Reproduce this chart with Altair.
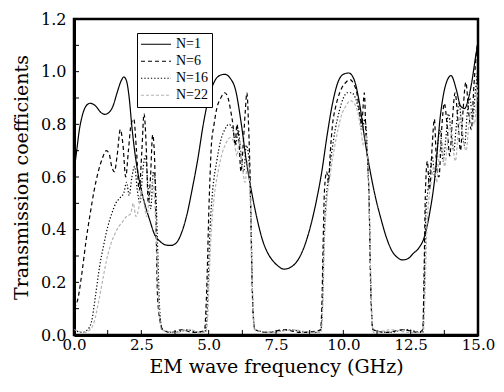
import altair as alt
import pandas as pd

# ---- data ----
n1_f = [0.0, 0.1, 0.2, 0.3, 0.45, 0.6, 0.8, 1.0, 1.15, 1.3, 1.45, 1.6, 1.75, 1.85, 1.95, 2.05, 2.15, 2.25, 2.35,
        2.5, 2.65, 2.8, 3.0, 3.2, 3.4, 3.6, 3.8, 4.0, 4.2, 4.4, 4.6, 4.8, 5.0, 5.2, 5.4, 5.6, 5.8, 6.0, 6.2, 6.4,
        6.6, 6.8, 7.0, 7.2, 7.4, 7.6, 7.8, 8.0, 8.2, 8.4, 8.6, 8.8, 9.0, 9.2, 9.4, 9.6, 9.8, 10.0, 10.2, 10.4,
        10.6, 10.8, 11.0, 11.2, 11.4, 11.6, 11.8, 12.0, 12.2, 12.4, 12.6, 12.8, 13.0, 13.2, 13.4, 13.6, 13.8,
        14.0, 14.2, 14.35, 14.5, 14.65, 14.8, 14.9, 15.0]
n1_t = [0.62, 0.70, 0.78, 0.83, 0.87, 0.88, 0.87, 0.845, 0.838, 0.845, 0.87, 0.92, 0.965, 0.98, 0.965, 0.90,
        0.79, 0.70, 0.63, 0.55, 0.49, 0.44, 0.38, 0.355, 0.342, 0.34, 0.35, 0.39, 0.46, 0.56, 0.67, 0.80, 0.90,
        0.96, 0.985, 0.99, 0.975, 0.93, 0.81, 0.66, 0.54, 0.44, 0.36, 0.31, 0.28, 0.26, 0.25, 0.255, 0.27, 0.30,
        0.35, 0.42, 0.51, 0.62, 0.76, 0.88, 0.96, 0.99, 0.995, 0.97, 0.88, 0.74, 0.62, 0.52, 0.44, 0.37, 0.32,
        0.295, 0.285, 0.29, 0.31, 0.33, 0.37, 0.46, 0.60, 0.83, 0.95, 0.985, 0.93, 0.87, 0.86, 0.90, 0.98, 1.05,
        1.11]

n6_f = [0.0, 0.15, 0.3, 0.45, 0.6, 0.75, 0.9, 1.05, 1.2, 1.3, 1.4, 1.5, 1.6, 1.72, 1.82, 1.92, 2.02, 2.12, 2.22,
        2.32, 2.42, 2.52, 2.6, 2.68, 2.76, 2.84, 2.92, 2.98, 3.05, 3.1, 3.2, 3.3, 3.6, 4.0, 4.4, 4.8,
        4.85, 4.9, 4.95, 5.0, 5.05, 5.1, 5.2, 5.3, 5.45, 5.6, 5.72, 5.82, 5.9, 5.98, 6.05, 6.12, 6.2, 6.28, 6.36,
        6.42, 6.48, 6.55, 6.6, 6.65, 6.72, 7.2, 7.8, 8.4, 9.0,
        9.15, 9.2, 9.25, 9.3, 9.38, 9.45, 9.52, 9.6, 9.7, 9.8, 9.95, 10.1, 10.25, 10.4, 10.5, 10.6, 10.68, 10.78,
        10.84, 10.9, 10.96, 11.0, 11.05, 11.1, 11.6, 12.2, 12.8,
        12.95, 13.0, 13.05, 13.12, 13.2, 13.3, 13.38, 13.46, 13.55, 13.65, 13.75, 13.85, 13.95, 14.05, 14.15,
        14.25, 14.35, 14.45, 14.55, 14.65, 14.75, 14.85, 14.95, 15.0]
n6_t = [0.10, 0.14, 0.24, 0.36, 0.46, 0.55, 0.62, 0.67, 0.70, 0.69, 0.64, 0.62, 0.68, 0.78, 0.72, 0.60, 0.70,
        0.80, 0.82, 0.70, 0.55, 0.70, 0.84, 0.72, 0.50, 0.60, 0.76, 0.70, 0.40, 0.15, 0.05, 0.02, 0.01, 0.02,
        0.01, 0.015,
        0.02, 0.10, 0.25, 0.45, 0.60, 0.72, 0.80, 0.86, 0.90, 0.92, 0.90, 0.85, 0.80, 0.72, 0.80, 0.74, 0.62,
        0.72, 0.85, 0.92, 0.80, 0.55, 0.25, 0.08, 0.02, 0.01, 0.02, 0.01, 0.015,
        0.02, 0.10, 0.35, 0.55, 0.62, 0.58, 0.70, 0.80, 0.86, 0.90, 0.94, 0.96, 0.97, 0.95, 0.92, 0.85, 0.80,
        0.92, 0.76, 0.66, 0.50, 0.25, 0.08, 0.02, 0.01, 0.02, 0.01,
        0.02, 0.25, 0.55, 0.66, 0.55, 0.72, 0.82, 0.65, 0.60, 0.78, 0.88, 0.80, 0.68, 0.82, 0.92, 0.82, 0.70,
        0.86, 0.96, 0.85, 0.78, 0.95, 1.08, 1.12]

n16_f = [0.0, 0.3, 0.5, 0.65, 0.8, 0.95, 1.1, 1.25, 1.4, 1.55, 1.7, 1.85, 1.95, 2.05, 2.15, 2.25, 2.35, 2.45,
         2.55, 2.65, 2.75, 2.85, 2.95, 3.02, 3.1, 3.18, 3.28, 3.7, 4.2, 4.6,
         4.85, 4.92, 4.98, 5.05, 5.15, 5.3, 5.45, 5.6, 5.75, 5.9, 6.0, 6.1, 6.2, 6.3, 6.4, 6.5, 6.58, 6.64, 6.72,
         7.3, 8.0, 8.7,
         9.15, 9.22, 9.28, 9.35, 9.45, 9.55, 9.7, 9.85, 10.0, 10.15, 10.3, 10.45, 10.6, 10.7, 10.8, 10.9, 10.97,
         11.03, 11.1, 11.7, 12.3,
         12.95, 13.0, 13.06, 13.14, 13.22, 13.3, 13.4, 13.5, 13.6, 13.7, 13.8, 13.9, 14.0, 14.1, 14.2, 14.3,
         14.4, 14.5, 14.6, 14.7, 14.8, 14.9, 15.0]
n16_t = [0.02, 0.01, 0.02, 0.05, 0.15, 0.26, 0.34, 0.41, 0.46, 0.50, 0.52, 0.54, 0.58, 0.53, 0.60, 0.64, 0.55,
         0.50, 0.62, 0.68, 0.56, 0.48, 0.62, 0.58, 0.35, 0.10, 0.02, 0.01, 0.02, 0.01,
         0.01, 0.05, 0.20, 0.40, 0.55, 0.66, 0.74, 0.78, 0.80, 0.78, 0.72, 0.78, 0.68, 0.62, 0.72, 0.66, 0.40,
         0.12, 0.02, 0.01, 0.02, 0.01,
         0.01, 0.10, 0.35, 0.50, 0.60, 0.68, 0.78, 0.85, 0.90, 0.92, 0.92, 0.90, 0.84, 0.78, 0.82, 0.68, 0.45,
         0.15, 0.02, 0.01, 0.02,
         0.01, 0.15, 0.45, 0.55, 0.62, 0.68, 0.60, 0.72, 0.78, 0.66, 0.74, 0.84, 0.78, 0.70, 0.80, 0.88, 0.78,
         0.72, 0.84, 0.90, 0.82, 0.92, 1.02]

n22_f = [0.0, 0.4, 0.6, 0.75, 0.9, 1.05, 1.2, 1.35, 1.5, 1.65, 1.8, 1.95, 2.1, 2.2, 2.3, 2.4, 2.5, 2.6, 2.7,
         2.8, 2.9, 3.0, 3.08, 3.16, 3.25, 3.8, 4.3, 4.7,
         4.9, 4.96, 5.02, 5.1, 5.2, 5.35, 5.5, 5.65, 5.8, 5.95, 6.05, 6.15, 6.25, 6.35, 6.45, 6.55, 6.62, 6.7,
         7.4, 8.1, 8.8,
         9.17, 9.24, 9.3, 9.38, 9.5, 9.65, 9.8, 9.95, 10.1, 10.25, 10.4, 10.55, 10.65, 10.75, 10.85, 10.93, 11.0,
         11.06, 11.12, 11.8, 12.4,
         12.97, 13.03, 13.1, 13.18, 13.26, 13.36, 13.46, 13.56, 13.66, 13.76, 13.86, 13.96, 14.06, 14.16, 14.26,
         14.36, 14.46, 14.56, 14.66, 14.76, 14.86, 14.96, 15.0]
n22_t = [0.02, 0.01, 0.02, 0.05, 0.12, 0.20, 0.28, 0.34, 0.38, 0.41, 0.43, 0.45, 0.46, 0.50, 0.45, 0.48, 0.55,
         0.50, 0.45, 0.52, 0.58, 0.50, 0.30, 0.10, 0.02, 0.01, 0.02, 0.01,
         0.01, 0.06, 0.22, 0.40, 0.52, 0.62, 0.69, 0.73, 0.75, 0.73, 0.68, 0.74, 0.64, 0.58, 0.66, 0.50, 0.20,
         0.02, 0.01, 0.02, 0.01,
         0.01, 0.12, 0.36, 0.50, 0.60, 0.70, 0.78, 0.84, 0.87, 0.89, 0.88, 0.84, 0.78, 0.72, 0.76, 0.60, 0.30,
         0.06, 0.01, 0.02, 0.01,
         0.01, 0.15, 0.40, 0.52, 0.58, 0.64, 0.58, 0.68, 0.74, 0.64, 0.72, 0.80, 0.72, 0.66, 0.76, 0.84, 0.74,
         0.70, 0.80, 0.86, 0.80, 0.90, 0.95]

series_names = ["N=1", "N=6", "N=16", "N=22"]
x_tick_values = [0, 1.25, 2.5, 3.75, 5, 6.25, 7.5, 8.75, 10, 11.25, 12.5, 13.75, 15]
y_tick_values = [0.0, 0.1, 0.2, 0.3, 0.4, 0.5, 0.6, 0.7, 0.8, 0.9, 1.0, 1.1, 1.2]
x_label_values = [0, 2.5, 5, 7.5, 10, 12.5, 15]
y_label_values = [0.0, 0.2, 0.4, 0.6, 0.8, 1.0, 1.2]

rows = []
for name, fs, ts in zip(series_names, [n1_f, n6_f, n16_f, n22_f], [n1_t, n6_t, n16_t, n22_t]):
    for i, (f, t) in enumerate(zip(fs, ts)):
        rows.append({"series": name, "f": f, "T": t, "order": i})
df = pd.DataFrame(rows)

LEG_FONT = "Liberation Serif"
AX_FONT = "DejaVu Serif"
W, H = 404, 316

xscale = alt.Scale(domain=[0, 15], nice=False)
yscale = alt.Scale(domain=[0, 1.2], nice=False)

axis_style = dict(grid=False, ticks=False, tickSize=0, labelFlush=False, labelOverlap=False,
                  labelFont=AX_FONT, labelColor="black",
                  titleFont=AX_FONT, titleFontWeight="normal", titleColor="black",
                  domainWidth=3, domainColor="black")
x_axis = alt.Axis(title="EM wave frequency (GHz)", values=x_label_values, format=".1f",
                  labelFontSize=15, labelPadding=2, titlePadding=5, titleFontSize=19, **axis_style)
y_axis = alt.Axis(title="Transmission coefficients", values=y_label_values, format=".1f",
                  labelFontSize=16, labelPadding=8, titlePadding=9, titleFontSize=19, **axis_style)

lines = alt.Chart(df).mark_line(strokeWidth=1.2, clip=True, interpolate="monotone").encode(
    x=alt.X("f:Q", scale=xscale, axis=x_axis, title="EM wave frequency (GHz)"),
    y=alt.Y("T:Q", scale=yscale, axis=y_axis, title="Transmission coefficients"),
    color=alt.Color("series:N", sort=series_names,
                    scale=alt.Scale(domain=series_names, range=["#000000", "#000000", "#000000", "#b4b4b4"]),
                    legend=alt.Legend(title=None, orient="none", legendX=63, legendY=14,
                                      symbolType="stroke", symbolSize=900, symbolStrokeWidth=1.2,
                                      labelFont=LEG_FONT, labelFontSize=14, labelColor="black",
                                      rowPadding=0, clipHeight=16.5, padding=3,
                                      strokeColor="black", fillColor="white", labelOffset=4)),
    strokeDash=alt.StrokeDash("series:N", sort=series_names,
                              scale=alt.Scale(domain=series_names,
                                              range=[[1, 0], [4, 3], [1.3, 2], [3, 2]]),
                              legend=alt.Legend(title=None, orient="none", legendX=63, legendY=14)),
    order="order:Q",
)

xt = pd.DataFrame({"v": x_tick_values})
yt = pd.DataFrame({"v": y_tick_values})
xticks = alt.Chart(xt).mark_rule(color="black", strokeWidth=1).encode(
    x=alt.X("v:Q", scale=xscale, axis=x_axis, title="EM wave frequency (GHz)"),
    y=alt.value(H), y2=alt.value(H - 5))
yticks = alt.Chart(yt).mark_rule(color="black", strokeWidth=1).encode(
    y=alt.Y("v:Q", scale=yscale, axis=y_axis, title="Transmission coefficients"),
    x=alt.value(0), x2=alt.value(5))

chart = alt.layer(lines, xticks, yticks).properties(
    width=W, height=H,
    autosize=alt.AutoSizeParams(type="none"),
    padding={"left": 66, "top": 11, "right": 18, "bottom": 47},
).configure(font=AX_FONT).configure_axis(
    labelFont=AX_FONT, titleFont=AX_FONT
).configure_view(stroke="black", strokeWidth=2.5)

chart.save("out.html", embed_options={"renderer": "svg", "actions": False})
